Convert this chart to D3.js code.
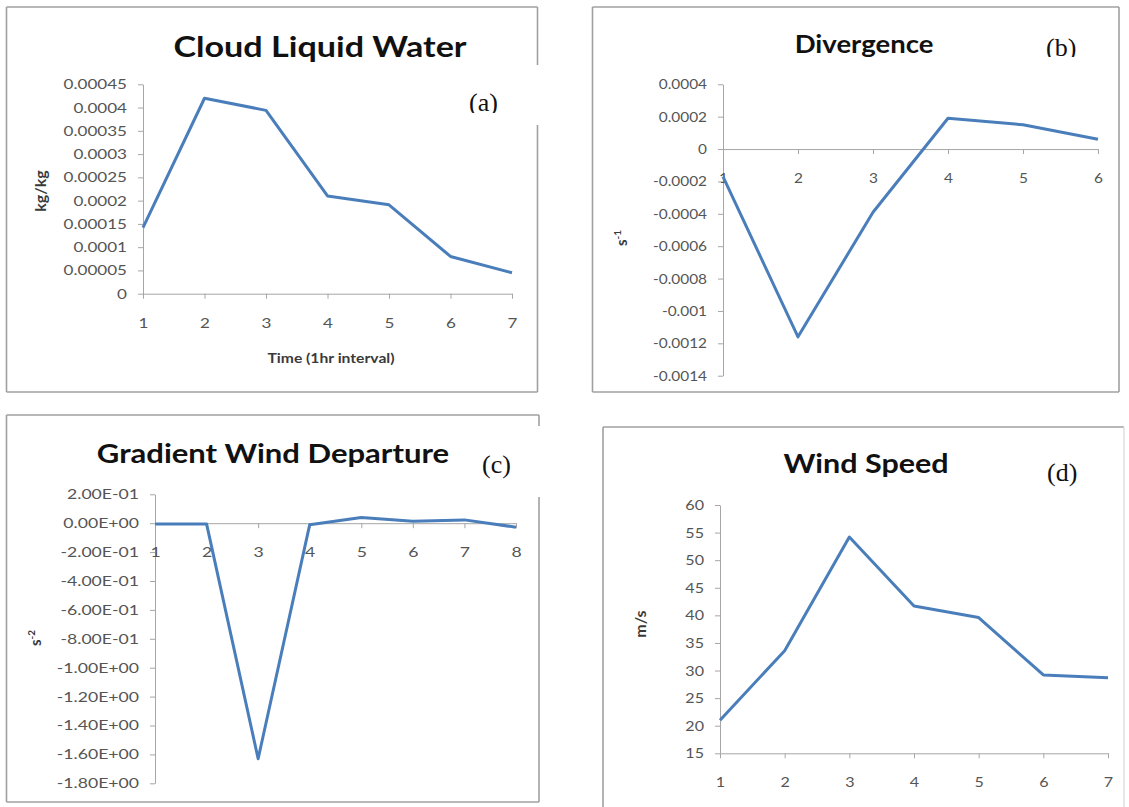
<!DOCTYPE html>
<html>
<head>
<meta charset="utf-8">
<script src="https://cdn.jsdelivr.net/npm/d3@7"></script>
<style>
  body { margin: 0; background: #fff; }
  svg { display: block; }
  .tick text { font-family: Lato, "Open Sans", sans-serif; font-size: 14px; fill: #555; }
  .axis path, .axis line { stroke: #a6a6a6; stroke-width: 1; }
</style>
</head>
<body>
<div id="chart"></div>
<script>
// values (hourly steps)

// (a) cloud liquid water
const clwHours = [1, 2, 3, 4, 5, 6, 7];
const clwValues = [0.000142, 0.00042, 0.000394, 0.00021, 0.000191, 0.00008, 0.000045];
const clwTicks = [0, 0.00005, 0.0001, 0.00015, 0.0002, 0.00025, 0.0003, 0.00035, 0.0004, 0.00045];
const clwTickLabels = ["0", "0.00005", "0.0001", "0.00015", "0.0002", "0.00025", "0.0003", "0.00035", "0.0004", "0.00045"];

// (b) divergence
const divHours = [1, 2, 3, 4, 5, 6];
const divValues = [-0.00017, -0.00116, -0.00039, 0.00019, 0.00015, 0.00006];
const divTicks = [-0.0014, -0.0012, -0.001, -0.0008, -0.0006, -0.0004, -0.0002, 0, 0.0002, 0.0004];
const divTickLabels = ["-0.0014", "-0.0012", "-0.001", "-0.0008", "-0.0006", "-0.0004", "-0.0002", "0", "0.0002", "0.0004"];

// (c) gradient wind departure
const gwdHours = [1, 2, 3, 4, 5, 6, 7, 8];
const gwdValues = [-0.005, -0.005, -1.63, -0.01, 0.04, 0.014, 0.023, -0.028];
const gwdTicks = [-1.8, -1.6, -1.4, -1.2, -1.0, -0.8, -0.6, -0.4, -0.2, 0, 0.2];
const gwdTickLabels = ["-1.80E+00", "-1.60E+00", "-1.40E+00", "-1.20E+00", "-1.00E+00", "-8.00E-01",
    "-6.00E-01", "-4.00E-01", "-2.00E-01", "0.00E+00", "2.00E-01"];

// (d) wind speed
const wsHours = [1, 2, 3, 4, 5, 6, 7];
const wsValues = [21.0, 33.6, 54.2, 41.7, 39.6, 29.2, 28.7];
const wsTicks = [15, 20, 25, 30, 35, 40, 45, 50, 55, 60];
const wsTickLabels = ["15", "20", "25", "30", "35", "40", "45", "50", "55", "60"];

const colors = {
    line: '#4a7ebb',
    border: '#a0a0a0',
    title: '#111',
    axisTitle: '#3a3a3a'
};

const svg = d3.select("#chart").append("svg")
    .attr("width", 1129)
    .attr("height", 807);

svg.append("rect").attr("width", 1129).attr("height", 807).attr("fill", "#fff");

const defs = svg.append("defs");

// layout of each panel (pixel boxes); the source image is stretched sideways,
// so text gets a horizontal squash factor (sx) per panel
const panels = [
    {
        id: "a", cats: clwHours, values: clwValues, ticks: clwTicks, tickLabels: clwTickLabels,
        box: {x0: 6.5, x1: 537.5, y0: 7, y1: 392},
        borderGap: [65, 125],
        plot: {x0: 143, x1: 512, yTop: 84.3, yBottom: 293.7},
        xAxisAt: 0, tickSx: 1.22,
        title: "Cloud Liquid Water", titleX: 320, titleY: 57, titleSize: 28, titleSx: 1.22,
        tag: "(a)", tagX: 469, tagY: 111, tagClip: 113,
        yTitle: "kg/kg", yTitleX: 46, yTitleY: 191, yTitleSize: 16,
        xTitle: "Time (1hr interval)", xTitleX: 331, xTitleY: 363, xTitleSx: 1.12
    },
    {
        id: "b", cats: divHours, values: divValues, ticks: divTicks, tickLabels: divTickLabels,
        box: {x0: 592.5, x1: 1119, y0: 7, y1: 392},
        plot: {x0: 723, x1: 1098, yTop: 84.3, yBottom: 375.7},
        xAxisAt: 0, tickSx: 1.1,
        title: "Divergence", titleX: 864, titleY: 53, titleSize: 25, titleSx: 1.1,
        tag: "(b)", tagX: 1046, tagY: 56, tagClip: 57,
        yTitle: "s", ySup: "-1", yTitleX: 627, yTitleY: 238, yTitleSize: 15
    },
    {
        id: "c", cats: gwdHours, values: gwdValues, ticks: gwdTicks, tickLabels: gwdTickLabels,
        box: {x0: 6.5, x1: 539, y0: 415, y1: 802},
        borderGap: [426, 497],
        plot: {x0: 155, x1: 516, yTop: 494.3, yBottom: 783.3},
        xAxisAt: 0, tickSx: 1.26,
        title: "Gradient Wind Departure", titleX: 273, titleY: 463, titleSize: 27, titleSx: 1.15,
        tag: "(c)", tagX: 482, tagY: 473,
        yTitle: "s", ySup: "-2", yTitleX: 41, yTitleY: 638, yTitleSize: 15
    },
    {
        id: "d", cats: wsHours, values: wsValues, ticks: wsTicks, tickLabels: wsTickLabels,
        box: {x0: 603, x1: 1124, y0: 427, y1: 820},
        rightFaint: true,
        plot: {x0: 720, x1: 1108, yTop: 505, yBottom: 753.3},
        xAxisAt: 15, tickSx: 1.15,
        title: "Wind Speed", titleX: 866, titleY: 473, titleSize: 27, titleSx: 1.13,
        tag: "(d)", tagX: 1047, tagY: 481,
        yTitle: "m/s", yTitleX: 646, yTitleY: 624, yTitleSize: 16
    }
];

panels.forEach(drawPanel);

function drawPanel(p) {
    let g = svg.append("g").attr("class", "panel-" + p.id);
    let b = p.box;

    // frame, the right edge is cut where the letter box sits on top of it
    let edges = [
        [b.x0, b.y0, b.x1, b.y0],
        [b.x0, b.y0, b.x0, b.y1],
        [b.x0, b.y1, b.x1, b.y1]
    ];
    if (p.borderGap) {
        edges.push([b.x1, b.y0, b.x1, p.borderGap[0]]);
        edges.push([b.x1, p.borderGap[1], b.x1, b.y1]);
    } else {
        edges.push([b.x1, b.y0, b.x1, b.y1, p.rightFaint]);
    }
    g.selectAll(".frame")
        .data(edges)
        .enter().append("line")
        .attr("class", "frame")
        .attr("x1", d => d[0]).attr("y1", d => d[1])
        .attr("x2", d => d[2]).attr("y2", d => d[3])
        .attr("stroke", d => d[4] ? "#e2e2e2" : colors.border)
        .attr("stroke-width", 1.6);

    // scales
    let x = d3.scalePoint()
        .domain(p.cats)
        .range([p.plot.x0, p.plot.x1]);

    let y = d3.scaleLinear()
        .domain(d3.extent(p.ticks))
        .range([p.plot.yBottom, p.plot.yTop]);

    let yAxis = d3.axisLeft(y)
        .tickValues(p.ticks)
        .tickFormat((d, i) => p.tickLabels[i])
        .tickSize(5)
        .tickSizeOuter(0)
        .tickPadding(11);

    let xAxis = d3.axisBottom(x)
        .tickSize(5)
        .tickSizeOuter(0)
        .tickPadding(19);

    let gy = g.append("g")
        .attr("class", "y-axis axis")
        .attr("transform", "translate(" + p.plot.x0 + ",0)")
        .call(yAxis);

    let gx = g.append("g")
        .attr("class", "x-axis axis")
        .attr("transform", "translate(0," + y(p.xAxisAt) + ")")
        .call(xAxis);

    // widen tick labels, keeping their anchor point
    gy.selectAll(".tick text")
        .attr("x", -16 / p.tickSx)
        .attr("transform", "scale(" + p.tickSx + ",1)");
    gx.selectAll(".tick text")
        .attr("transform", "scale(" + p.tickSx + ",1)");

    g.selectAll(".domain").attr("stroke", "#a6a6a6");

    // the series
    let line = d3.line()
        .x((d, i) => x(p.cats[i]))
        .y(d => y(d));

    g.append("path")
        .datum(p.values)
        .attr("d", line)
        .attr("fill", "none")
        .attr("stroke", colors.line)
        .attr("stroke-width", 3)
        .attr("stroke-linejoin", "round");

    // title
    g.append("text")
        .attr("transform", "translate(" + p.titleX + "," + p.titleY + ") scale(" + p.titleSx + ",1)")
        .attr("text-anchor", "middle")
        .attr("font-family", "Lato, 'Open Sans', sans-serif")
        .attr("font-weight", "bold")
        .attr("font-size", p.titleSize)
        .attr("fill", colors.title)
        .text(p.title);

    // panel letter
    let tag = g.append("text")
        .attr("x", p.tagX)
        .attr("y", p.tagY)
        .attr("font-family", "'Liberation Serif', 'DejaVu Serif', serif")
        .attr("font-size", 26)
        .attr("fill", "#111")
        .text(p.tag);
    if (p.tagClip) {
        defs.append("clipPath").attr("id", "clip-" + p.id)
            .append("rect")
            .attr("x", p.tagX - 10).attr("y", p.tagY - 40)
            .attr("width", 60).attr("height", p.tagClip - (p.tagY - 40));
        tag.attr("clip-path", "url(#clip-" + p.id + ")");
    }

    // y title
    let yt = g.append("text")
        .attr("transform", "translate(" + p.yTitleX + "," + p.yTitleY + ") rotate(-90)")
        .attr("text-anchor", "middle")
        .attr("font-family", "Lato, 'Open Sans', sans-serif")
        .attr("font-weight", "bold")
        .attr("font-size", p.yTitleSize)
        .attr("fill", colors.axisTitle)
        .text(p.yTitle);
    if (p.ySup) {
        yt.append("tspan")
            .attr("font-size", 10)
            .attr("dy", -6)
            .text(p.ySup);
    }

    if (p.xTitle) {
        g.append("text")
            .attr("transform", "translate(" + p.xTitleX + "," + p.xTitleY + ") scale(" + p.xTitleSx + ",1)")
            .attr("text-anchor", "middle")
            .attr("font-family", "Lato, 'Open Sans', sans-serif")
            .attr("font-weight", "bold")
            .attr("font-size", 14)
            .attr("fill", colors.axisTitle)
            .text(p.xTitle);
    }
}
</script>
</body>
</html>
